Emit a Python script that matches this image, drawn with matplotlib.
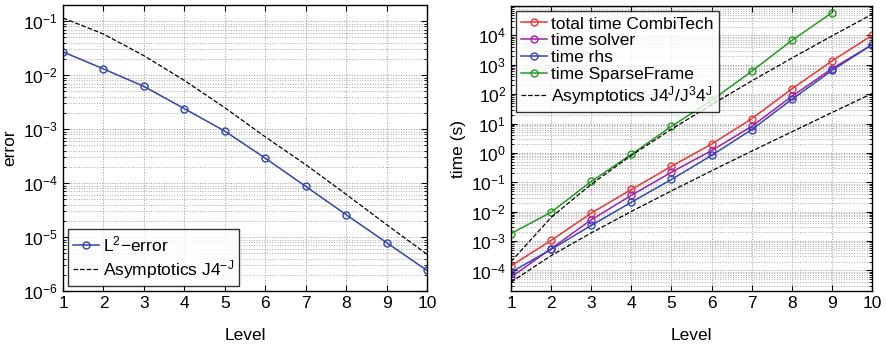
import numpy as np
import matplotlib
matplotlib.use("Agg")
import matplotlib.pyplot as plt
from matplotlib.ticker import LogLocator, FixedLocator, NullFormatter

plt.rcParams['font.family'] = ['Liberation Sans', 'DejaVu Sans']
plt.rcParams['mathtext.default'] = 'regular'

levels = [1, 2, 3, 4, 5, 6, 7, 8, 9, 10]

# left panel
l2_error = [2.7e-2, 1.31e-2, 6.2e-3, 2.4e-3, 9.2e-4, 2.9e-4, 8.7e-5, 2.6e-5, 7.9e-6, 2.4e-6]
asym_err = [0.115, 0.058, 0.023, 0.0080, 0.0025, 7.2e-4, 2.2e-4, 6.2e-5, 1.7e-5, 4.8e-6]
err_ticks = [1e-6, 1e-5, 1e-4, 1e-3, 1e-2, 1e-1]

# right panel
t_total = [1.44e-4, 1.05e-3, 8.9e-3, 0.057, 0.35, 2.0, 14.5, 150, 1340, 1.0e4]
t_solver = [5.9e-5, 5.5e-4, 5.3e-3, 0.036, 0.22, 1.2, 8.0, 84, 735, 4800]
t_rhs = [8.7e-5, 5.2e-4, 3.4e-3, 0.021, 0.125, 0.82, 6.2, 66, 640, 4800]
sparse_levels = [1, 2, 3, 4, 5, 6, 7, 8, 9]
t_sparse = [1.8e-3, 9.6e-3, 0.107, 0.89, 8.0, 61, 600, 6700, 5.9e4]
asym_hi = [2.0e-4, 6.4e-3, 0.086, 0.82, 6.4, 44, 281, 1680, 9550, 5.2e4]
asym_lo = [4.0e-5, 3.2e-4, 1.9e-3, 0.0102, 0.051, 0.246, 1.15, 5.2, 23.6, 105]
time_ticks = [1e-4, 1e-3, 1e-2, 1e-1, 1e0, 1e1, 1e2, 1e3, 1e4]

fig = plt.figure(figsize=(8.86, 3.45), dpi=100)
ax1 = fig.add_axes([63/886, 54/345, 364/886, 286/345])
ax2 = fig.add_axes([511/886, 54/345, 361/886, 285/345])


def style(ax, ticks):
    ax.set_yscale('log')
    ax.set_xlim(1, 10)
    ax.set_xticks(levels)
    ax.yaxis.set_major_locator(FixedLocator(ticks))
    ax.yaxis.set_minor_locator(LogLocator(base=10, subs=np.arange(2, 10), numticks=20))
    ax.yaxis.set_minor_formatter(NullFormatter())
    ax.grid(True, which='major', linestyle=':', color='#999999', linewidth=0.7)
    ax.grid(True, which='minor', axis='y', linestyle=':', color='#aaaaaa', linewidth=0.7)
    ax.tick_params(direction='in', top=True, right=True, labelsize=12.5, length=4)
    ax.tick_params(which='minor', direction='in', right=True, length=2)
    for s in ax.spines.values():
        s.set_linewidth(1.0)
    ax.set_xlabel('Level', fontsize=12.5, labelpad=12)


ax1.plot(levels, l2_error, '-o', color='#3344aa', mfc='none', ms=5, lw=1.1, label='L$^2$\u2212error')
ax1.plot(levels, asym_err, '--', color='black', lw=0.9, label='Asymptotics J4$^{-J}$')
style(ax1, err_ticks)
ax1.set_ylim(1e-6, 2e-1)
ax1.set_ylabel('error', fontsize=12.5)
leg1 = ax1.legend(loc='lower left', fontsize=12.5, fancybox=False, edgecolor='black',
                  borderaxespad=0.3, handlelength=1.5, handletextpad=0.2, labelspacing=0.2,
                  borderpad=0.3)
leg1.get_frame().set_linewidth(1.0)

ax2.plot(levels, t_total, '-o', color='#ee3333', mfc='none', ms=5, lw=1.1, label='total time CombiTech')
ax2.plot(levels, t_solver, '-o', color='#a020a8', mfc='none', ms=5, lw=1.1, label='time solver')
ax2.plot(levels, t_rhs, '-o', color='#3344bb', mfc='none', ms=5, lw=1.1, label='time rhs')
ax2.plot(sparse_levels, t_sparse, '-o', color='#229922', mfc='none', ms=5, lw=1.1, label='time SparseFrame')
ax2.plot(levels, asym_hi, '--', color='black', lw=0.9, label='Asymptotics J4$^J$/J$^3$4$^J$')
ax2.plot(levels, asym_lo, '--', color='black', lw=0.9)
style(ax2, time_ticks)
ax2.set_ylim(2e-5, 1e5)
ax2.set_ylabel('time (s)', fontsize=12.5)
leg2 = ax2.legend(loc='upper left', fontsize=12.5, fancybox=False, edgecolor='black',
                  borderaxespad=0.3, handlelength=1.5, handletextpad=0.2, labelspacing=0.1,
                  borderpad=0.3)
leg2.get_frame().set_linewidth(1.0)

plt.savefig('out.png', dpi=100)
